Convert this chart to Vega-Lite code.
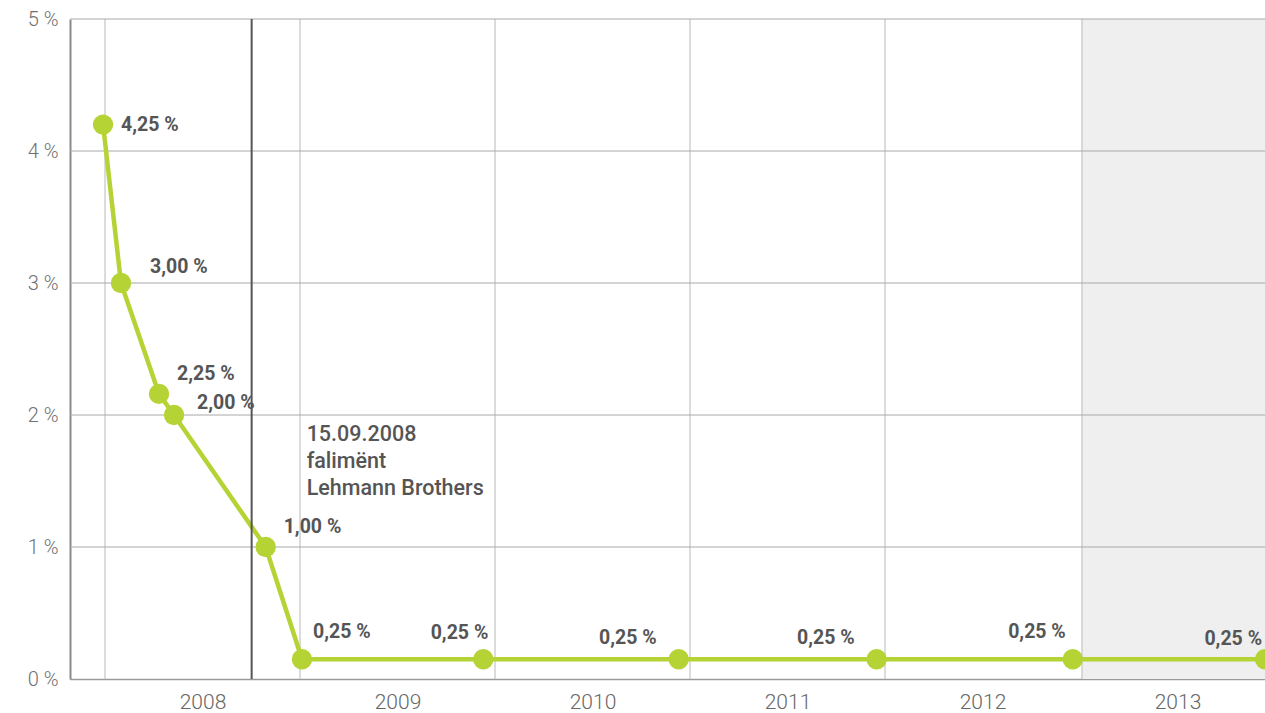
{
  "$schema": "https://vega.github.io/schema/vega-lite/v6.json",
  "width": 1195,
  "height": 660,
  "autosize": {"type": "none"},
  "padding": {"left": 70, "top": 19, "right": 0, "bottom": 34},
  "background": "white",
  "config": {
    "view": {"stroke": null},
    "font": "Roboto",
    "axis": {"labelFont": "Roboto", "labelFontWeight": 300}
  },
  "datasets": {
    "rates": [
      {"t": 2007.99, "rate": 4.2, "label": "4,25 %"},
      {"t": 2008.082, "rate": 3.0, "label": "3,00 %"},
      {"t": 2008.277, "rate": 2.16, "label": "2,25 %"},
      {"t": 2008.354, "rate": 2.0, "label": "2,00 %"},
      {"t": 2008.824, "rate": 1.0, "label": "1,00 %"},
      {"t": 2009.01, "rate": 0.15, "label": "0,25 %"},
      {"t": 2009.94, "rate": 0.15, "label": "0,25 %"},
      {"t": 2010.942, "rate": 0.15, "label": "0,25 %"},
      {"t": 2011.957, "rate": 0.15, "label": "0,25 %"},
      {"t": 2012.963, "rate": 0.15, "label": "0,25 %"},
      {"t": 2013.949, "rate": 0.15, "label": "0,25 %"}
    ],
    "years": [
      {"year": 2008}, {"year": 2009}, {"year": 2010}, {"year": 2011}, {"year": 2012}, {"year": 2013.01}
    ],
    "levels": [{"level": 1}, {"level": 2}, {"level": 3}, {"level": 4}, {"level": 5}],
    "shade": [{"start": 2013.01, "end": 2014}],
    "event": [{"t": 2008.752, "y": 1.85, "text": ["15.09.2008", "falimënt", "Lehmann Brothers"]}]
  },
  "layer": [
    {
      "data": {"name": "shade"},
      "mark": {"type": "rect", "color": "#efefef", "clip": true},
      "encoding": {
        "x": {
          "field": "start", "type": "quantitative",
          "scale": {"domain": [2007.8205, 2013.9487], "nice": false, "zero": false},
          "axis": {
            "values": [2008.5, 2009.5, 2010.5, 2011.5, 2012.5, 2013.5],
            "labelExpr": "floor(datum.value)",
            "title": null, "grid": false, "ticks": false,
            "domainColor": "#9a9a9a", "domainWidth": 1.5,
            "labelFontSize": 21, "labelColor": "#666", "labelPadding": 12
          }
        },
        "x2": {"field": "end"}
      }
    },
    {
      "data": {"name": "years"},
      "mark": {"type": "rule", "color": "#c4c4c4", "strokeWidth": 1.2},
      "encoding": {"x": {"field": "year", "type": "quantitative"}}
    },
    {
      "data": {"name": "levels"},
      "mark": {"type": "rule", "color": "#a8a8a8", "strokeWidth": 1},
      "encoding": {"y": {"field": "level", "type": "quantitative"}}
    },
    {
      "data": {"name": "rates"},
      "mark": {"type": "line", "color": "#b5d334", "strokeWidth": 4.5},
      "encoding": {
        "x": {"field": "t", "type": "quantitative"},
        "y": {
          "field": "rate", "type": "quantitative",
          "scale": {"domain": [0, 5], "nice": false},
          "axis": {
            "values": [0, 1, 2, 3, 4, 5],
            "labelExpr": "datum.value + ' %'",
            "title": null, "ticks": false, "grid": false,
            "domainColor": "#8a8a8a", "domainWidth": 2,
            "labelFontSize": 20, "labelColor": "#707070", "labelPadding": 12
          }
        }
      }
    },
    {
      "data": {"name": "event"},
      "mark": {"type": "rule", "color": "#555555", "strokeWidth": 2},
      "encoding": {"x": {"field": "t", "type": "quantitative"}}
    },
    {
      "data": {"name": "event"},
      "mark": {"type": "text", "align": "left", "baseline": "middle", "dx": 55, "fontSize": 21.5, "fontWeight": 500, "color": "#555555", "lineHeight": 27},
      "encoding": {
        "x": {"field": "t", "type": "quantitative"},
        "y": {"field": "y", "type": "quantitative"},
        "text": {"field": "text"}
      }
    },
    {
      "data": {"name": "rates"},
      "mark": {"type": "point", "filled": true, "opacity": 1, "size": 415, "color": "#b5d334"},
      "encoding": {
        "x": {"field": "t", "type": "quantitative"},
        "y": {"field": "rate", "type": "quantitative"}
      }
    },
    {
      "data": {"name": "rates"},
      "transform": [{"filter": "datum.t < 2008"}],
      "mark": {"type": "text", "align": "left", "baseline": "middle", "dx": 18, "dy": 0, "fontSize": 19.5, "fontWeight": "bold", "color": "#555555"},
      "encoding": {"x": {"field": "t", "type": "quantitative"}, "y": {"field": "rate", "type": "quantitative"}, "text": {"field": "label"}}
    },
    {
      "data": {"name": "rates"},
      "transform": [{"filter": "datum.label == '3,00 %'"}],
      "mark": {"type": "text", "align": "left", "baseline": "middle", "dx": 29, "dy": -16, "fontSize": 19.5, "fontWeight": "bold", "color": "#555555"},
      "encoding": {"x": {"field": "t", "type": "quantitative"}, "y": {"field": "rate", "type": "quantitative"}, "text": {"field": "label"}}
    },
    {
      "data": {"name": "rates"},
      "transform": [{"filter": "datum.label == '2,25 %' || datum.label == '1,00 %'"}],
      "mark": {"type": "text", "align": "left", "baseline": "middle", "dx": 18, "dy": -20, "fontSize": 19.5, "fontWeight": "bold", "color": "#555555"},
      "encoding": {"x": {"field": "t", "type": "quantitative"}, "y": {"field": "rate", "type": "quantitative"}, "text": {"field": "label"}}
    },
    {
      "data": {"name": "rates"},
      "transform": [{"filter": "datum.label == '2,00 %'"}],
      "mark": {"type": "text", "align": "left", "baseline": "middle", "dx": 23, "dy": -12, "fontSize": 19.5, "fontWeight": "bold", "color": "#555555"},
      "encoding": {"x": {"field": "t", "type": "quantitative"}, "y": {"field": "rate", "type": "quantitative"}, "text": {"field": "label"}}
    },
    {
      "data": {"name": "rates"},
      "transform": [{"filter": "datum.t > 2009 && datum.t < 2009.5"}],
      "mark": {"type": "text", "align": "left", "baseline": "middle", "dx": 11, "dy": -27, "fontSize": 19.5, "fontWeight": "bold", "color": "#555555"},
      "encoding": {"x": {"field": "t", "type": "quantitative"}, "y": {"field": "rate", "type": "quantitative"}, "text": {"field": "label"}}
    },
    {
      "data": {"name": "rates"},
      "transform": [{"filter": "datum.t > 2009.5 && datum.t < 2010"}],
      "mark": {"type": "text", "align": "right", "baseline": "middle", "dx": 5, "dy": -26, "fontSize": 19.5, "fontWeight": "bold", "color": "#555555"},
      "encoding": {"x": {"field": "t", "type": "quantitative"}, "y": {"field": "rate", "type": "quantitative"}, "text": {"field": "label"}}
    },
    {
      "data": {"name": "rates"},
      "transform": [{"filter": "datum.t > 2012.5 && datum.t < 2013"}],
      "mark": {"type": "text", "align": "right", "baseline": "middle", "dx": -7, "dy": -27, "fontSize": 19.5, "fontWeight": "bold", "color": "#555555"},
      "encoding": {"x": {"field": "t", "type": "quantitative"}, "y": {"field": "rate", "type": "quantitative"}, "text": {"field": "label"}}
    },
    {
      "data": {"name": "rates"},
      "transform": [{"filter": "datum.t > 2010.5 && datum.t < 2012"}],
      "mark": {"type": "text", "align": "right", "baseline": "middle", "dx": -22, "dy": -21, "fontSize": 19.5, "fontWeight": "bold", "color": "#555555"},
      "encoding": {"x": {"field": "t", "type": "quantitative"}, "y": {"field": "rate", "type": "quantitative"}, "text": {"field": "label"}}
    },
    {
      "data": {"name": "rates"},
      "transform": [{"filter": "datum.t > 2013.5"}],
      "mark": {"type": "text", "align": "right", "baseline": "middle", "dx": -3, "dy": -20, "fontSize": 19.5, "fontWeight": "bold", "color": "#555555"},
      "encoding": {"x": {"field": "t", "type": "quantitative"}, "y": {"field": "rate", "type": "quantitative"}, "text": {"field": "label"}}
    }
  ]
}
